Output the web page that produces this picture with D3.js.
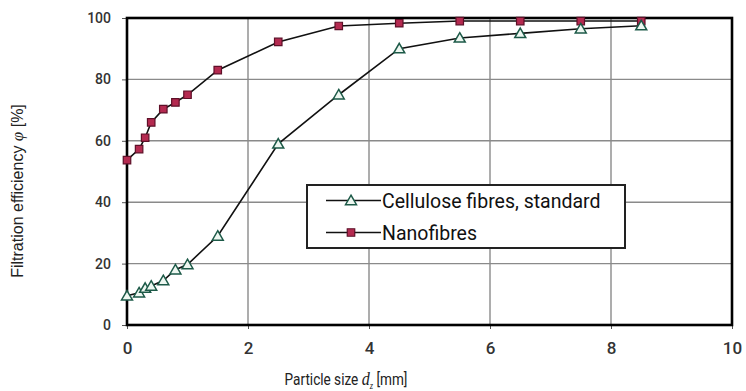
<!DOCTYPE html>
<html>
<head>
<meta charset="utf-8">
<script src="https://cdn.jsdelivr.net/npm/d3@7"></script>
<style>
  html, body { margin: 0; padding: 0; background: #fff; }
  svg { display: block; font-family: Roboto, "Noto Sans", sans-serif; }
</style>
</head>
<body>
<svg id="chart" width="746" height="391"></svg>
<script>
// Particle sizes (mm) and filtration efficiency (%) for both filter media
const particleSize = [0, 0.2, 0.3, 0.4, 0.6, 0.8, 1.0, 1.5, 2.5, 3.5, 4.5, 5.5, 6.5, 7.5, 8.5];
const cellulose = [9.5, 10.5, 12, 12.7, 14.5, 18, 19.7, 29, 59, 75, 90, 93.5, 95, 96.5, 97.5];
const nanofibres = [53.7, 57.3, 61, 66, 70.3, 72.5, 75, 83, 92.2, 97.4, 98.3, 99, 99, 99, 99];
const seriesNames = ["Cellulose fibres, standard", "Nanofibres"];
const xTicks = [0, 2, 4, 6, 8, 10];
const yTicks = [0, 20, 40, 60, 80, 100];

const svg = d3.select("#chart");
const plotLeft = 127, plotRight = 732, plotTop = 18, plotBottom = 325;

const x = d3.scaleLinear().domain([0, 10]).range([plotLeft, plotRight]);
const y = d3.scaleLinear().domain([0, 100]).range([plotBottom, plotTop]);

// grid
const grid = svg.append("g");
grid.selectAll("line.v").data(xTicks.slice(1, -1)).join("line")
  .attr("x1", d => x(d)).attr("x2", d => x(d))
  .attr("y1", plotTop).attr("y2", plotBottom)
  .attr("stroke", "#8a8a8a").attr("stroke-width", 1.4);
grid.selectAll("line.h").data(yTicks.slice(1, -1)).join("line")
  .attr("x1", plotLeft).attr("x2", plotRight)
  .attr("y1", d => y(d)).attr("y2", d => y(d))
  .attr("stroke", "#8a8a8a").attr("stroke-width", 1.4);

// axes
const xAxis = svg.append("g").attr("transform", `translate(0,${plotBottom})`)
  .call(d3.axisBottom(x).tickValues(xTicks).tickSize(4).tickPadding(13).tickFormat(d3.format("d")));
xAxis.select(".domain").remove();
xAxis.selectAll("line").attr("stroke", "#555");
xAxis.selectAll("text").style("font-family", "Roboto, sans-serif")
  .attr("font-size", 17).attr("font-weight", 500).attr("fill", "#333");

const yAxis = svg.append("g").attr("transform", `translate(${plotLeft},0)`)
  .call(d3.axisLeft(y).tickValues(yTicks).tickSize(5).tickPadding(11).tickFormat(d3.format("d")));
yAxis.select(".domain").remove();
yAxis.selectAll("line").attr("stroke", "#555");
yAxis.selectAll("text").style("font-family", "Roboto, sans-serif")
  .attr("font-size", 14).attr("font-weight", 500).attr("fill", "#333");

// plot frame
svg.append("rect")
  .attr("x", plotLeft).attr("y", plotTop)
  .attr("width", plotRight - plotLeft).attr("height", plotBottom - plotTop)
  .attr("fill", "none").attr("stroke", "#000").attr("stroke-width", 2.6);

// series
const line = d3.line().x(d => x(d[0])).y(d => y(d[1]));
const celluloseData = particleSize.map((p, i) => [p, cellulose[i]]);
const nanoData = particleSize.map((p, i) => [p, nanofibres[i]]);

svg.append("path").datum(celluloseData).attr("d", line)
  .attr("fill", "none").attr("stroke", "#111").attr("stroke-width", 1.6);
svg.append("path").datum(nanoData).attr("d", line)
  .attr("fill", "none").attr("stroke", "#111").attr("stroke-width", 1.6);

const tri = d3.symbol().type(d3.symbolTriangle).size(52);
const sq = d3.symbol().type(d3.symbolSquare).size(56);

function triangles(g, data) {
  g.selectAll("path").data(data).join("path")
    .attr("d", tri)
    .attr("transform", d => `translate(${x(d[0])},${y(d[1]) + 1})`)
    .attr("fill", "#eef7f1").attr("stroke", "#1d5a48").attr("stroke-width", 1.5);
}
function squares(g, data) {
  g.selectAll("path").data(data).join("path")
    .attr("d", sq)
    .attr("transform", d => `translate(${x(d[0])},${y(d[1])})`)
    .attr("fill", "#b42a50").attr("stroke", "#5e1028").attr("stroke-width", 1.2);
}
squares(svg.append("g"), nanoData);
triangles(svg.append("g"), celluloseData);

// legend
const lg = svg.append("g");
lg.append("rect").attr("x", 307).attr("y", 185).attr("width", 318).attr("height", 63)
  .attr("fill", "#fff").attr("stroke", "#222").attr("stroke-width", 2);
const rows = [200.5, 232.5];
rows.forEach((ry, i) => {
  lg.append("line").attr("x1", 326).attr("x2", 381).attr("y1", ry).attr("y2", ry)
    .attr("stroke", "#111").attr("stroke-width", 1.6);
  if (i === 0) {
    lg.append("path").attr("d", tri).attr("transform", `translate(351,${ry + 1})`)
      .attr("fill", "#eef7f1").attr("stroke", "#1d5a48").attr("stroke-width", 1.5);
  } else {
    lg.append("path").attr("d", sq).attr("transform", `translate(351,${ry})`)
      .attr("fill", "#b42a50").attr("stroke", "#5e1028").attr("stroke-width", 1.2);
  }
  lg.append("text").attr("x", 382).attr("y", ry).attr("dy", "0.36em")
    .style("font-family", "Roboto, sans-serif")
    .attr("font-size", 19.5).attr("fill", "#111").text(seriesNames[i]);
});

// axis titles (x title set in a narrowed face)
const serif = "'Liberation Serif', 'DejaVu Serif', serif";
const xt = svg.append("g").attr("transform", "translate(346,385) scale(0.85,1)")
  .append("text").attr("x", 0).attr("y", 0)
  .style("font-family", "Roboto, sans-serif")
  .attr("text-anchor", "middle").attr("font-size", 16).attr("fill", "#222");
xt.append("tspan").text("Particle size ");
xt.append("tspan").style("font-family", serif).attr("font-style", "italic").attr("font-size", 19).text("d");
xt.append("tspan").style("font-family", serif).attr("font-style", "italic").attr("font-size", 10).attr("dy", 4).text("z");
xt.append("tspan").attr("dy", -4).text(" [mm]");

const yt = svg.append("text").attr("transform", "translate(23,191) rotate(-90)")
  .style("font-family", "'Liberation Sans', Arial, sans-serif")
  .attr("text-anchor", "middle").attr("font-size", 16).attr("fill", "#222");
yt.append("tspan").text("Filtration efficiency ");
yt.append("tspan").style("font-family", serif).attr("font-style", "italic").attr("font-size", 17).text("φ");
yt.append("tspan").text(" [%]");
</script>
</body>
</html>
